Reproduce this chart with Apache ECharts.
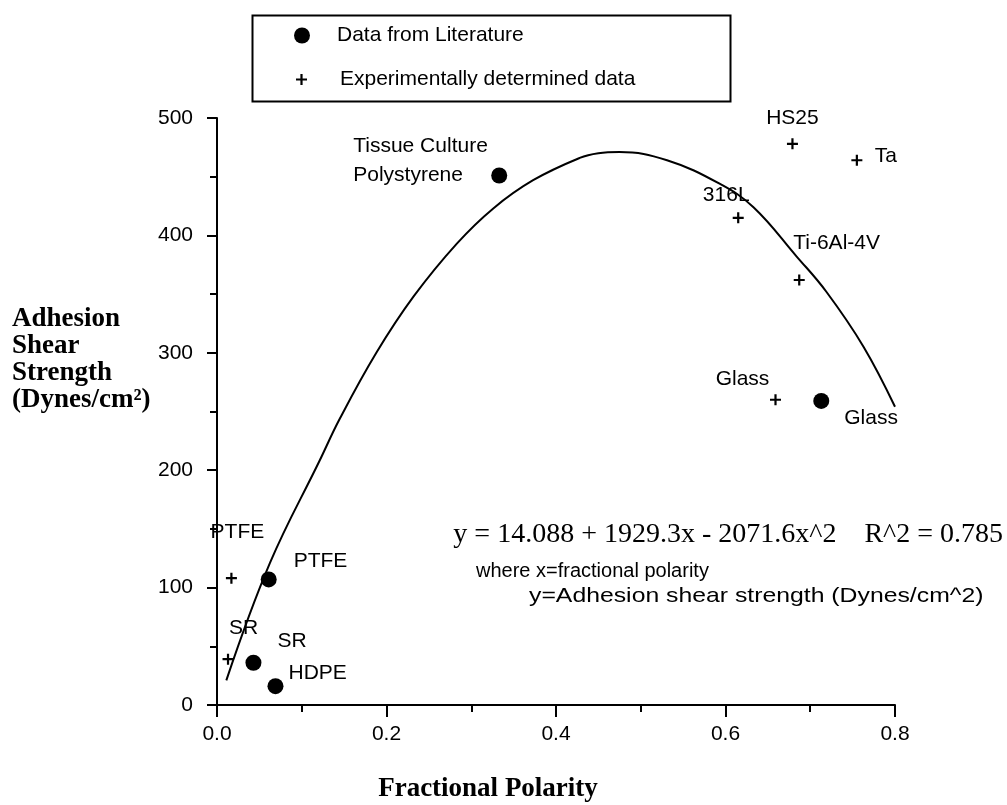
<!DOCTYPE html>
<html>
<head>
<meta charset="utf-8">
<script src="https://cdn.jsdelivr.net/npm/echarts@6/dist/echarts.min.js"></script>
<style>
  html, body { margin: 0; padding: 0; background: #fff; }
  #chart { width: 1007px; height: 805px; }
</style>
</head>
<body>
<div id="chart"></div>
<script>
// Data from literature (filled circles)
const litX = [0.333, 0.061, 0.043, 0.069, 0.713];
const litY = [451, 107, 36, 16, 259];
const litNames = ["Tissue Culture\nPolystyrene", "PTFE", "SR", "HDPE", "Glass"];

// Experimentally determined data (crosses)
const expX = [0.679, 0.755, 0.615, 0.687, 0.659, 0.017, 0.013];
const expY = [478, 464, 415, 362, 260, 108, 39];
const expNames = ["HS25", "Ta", "316L", "Ti-6Al-4V", "Glass", "PTFE", "SR"];

// Fitted curve
const fitX = [0.011, 0.0625, 0.121, 0.145, 0.188, 0.232, 0.283, 0.326, 0.373, 0.428, 0.45, 0.475, 0.531, 0.593, 0.633, 0.684, 0.719, 0.763, 0.8];
const fitY = [21, 121, 208, 244, 300, 348, 393, 423, 447, 466, 470, 471, 464, 444, 424, 382, 352, 305, 254];

const xTicks = [0, 0.8, 0.2];
const yTicks = [0, 500, 100];

// label placement (pixels from the point)
const litLabelPos = [
  { align: "left", offset: [-146, -15] },
  { align: "left", offset: [25, -18] },
  { align: "left", offset: [24, -22] },
  { align: "left", offset: [13, -13] },
  { align: "left", offset: [23, 17] },
];
const expLabelPos = [
  { align: "center", offset: [0, -26] },
  { align: "left", offset: [18, -4] },
  { align: "center", offset: [-12, -23] },
  { align: "left", offset: [-6, -37] },
  { align: "center", offset: [-33, -21] },
  { align: "center", offset: [6, -46] },
  { align: "left", offset: [1, -31] },
];

const sans = "Liberation Sans, Arial, sans-serif";
const serif = "Liberation Serif, Times New Roman, serif";
const plusIcon = "path://M4,0H6V4H10V6H6V10H4V6H0V4H4Z";

function withLabels(xs, ys, names, pos) {
  return xs.map(function (x, i) {
    return {
      value: [x, ys[i]],
      label: {
        show: true,
        formatter: names[i],
        position: "inside",
        align: pos[i].align,
        verticalAlign: "middle",
        offset: pos[i].offset,
      },
    };
  });
}

var chart = echarts.init(document.getElementById("chart"), null, { renderer: "canvas" });

var option = {
  backgroundColor: "#fff",
  animation: false,
  grid: { left: 217, top: 118, width: 678, height: 587 },
  legend: [
    {
      data: [{ name: "Data from Literature", icon: "circle" }],
      left: 294,
      top: 25,
      padding: 0,
      itemWidth: 16,
      itemHeight: 16,
      selectedMode: false,
      textStyle: { fontFamily: sans, fontSize: 21, color: "#000", padding: [0, 0, 0, 22] },
    },
    {
      data: [{ name: "Experimentally determined data", icon: plusIcon }],
      left: 296,
      top: 69,
      padding: 0,
      itemWidth: 11,
      itemHeight: 11,
      selectedMode: false,
      textStyle: { fontFamily: sans, fontSize: 21, color: "#000", padding: [0, 0, 0, 28] },
    },
  ],
  xAxis: {
    type: "value",
    min: xTicks[0],
    max: xTicks[1],
    interval: xTicks[2],
    axisLine: { lineStyle: { color: "#000", width: 2 } },
    axisTick: { length: 12, lineStyle: { color: "#000", width: 2 } },
    minorTick: { show: true, splitNumber: 2, length: 7, lineStyle: { color: "#000", width: 2 } },
    splitLine: { show: false },
    axisLabel: {
      color: "#000",
      fontFamily: sans,
      fontSize: 21,
      margin: 19,
      formatter: function (v) { return v.toFixed(1); },
    },
  },
  yAxis: {
    type: "value",
    min: yTicks[0],
    max: yTicks[1],
    interval: yTicks[2],
    axisLine: { lineStyle: { color: "#000", width: 2 } },
    axisTick: { length: 10, lineStyle: { color: "#000", width: 2 } },
    minorTick: { show: true, splitNumber: 2, length: 7, lineStyle: { color: "#000", width: 2 } },
    splitLine: { show: false },
    axisLabel: { color: "#000", fontFamily: sans, fontSize: 21, margin: 24 },
  },
  series: [
    {
      name: "fit",
      type: "line",
      smooth: 0.4,
      symbol: "none",
      lineStyle: { color: "#000", width: 2 },
      data: fitX.map(function (x, i) { return [x, fitY[i]]; }),
      z: 1,
    },
    {
      name: "Data from Literature",
      type: "scatter",
      symbol: "circle",
      symbolSize: 16,
      itemStyle: { color: "#000", opacity: 1 },
      label: { color: "#000", fontFamily: sans, fontSize: 21, lineHeight: 29 },
      data: withLabels(litX, litY, litNames, litLabelPos),
      z: 3,
    },
    {
      name: "Experimentally determined data",
      type: "scatter",
      symbol: plusIcon,
      symbolSize: 11,
      itemStyle: { color: "#000", opacity: 1 },
      label: { color: "#000", fontFamily: sans, fontSize: 21 },
      data: withLabels(expX, expY, expNames, expLabelPos),
      z: 3,
    },
  ],
  graphic: [
    {
      type: "rect",
      left: 250,
      top: 13,
      shape: { width: 478, height: 86 },
      style: { fill: "none", stroke: "#000", lineWidth: 2 },
    },
    {
      type: "text",
      left: 12,
      top: 306,
      style: {
        text: "Adhesion\nShear\nStrength\n(Dynes/cm²)",
        font: "bold 27px " + serif,
        lineHeight: 27,
        fill: "#000",
      },
    },
    {
      type: "text",
      x: 488,
      y: 789,
      style: {
        text: "Fractional Polarity",
        font: "bold 27px " + serif,
        fill: "#000",
        align: "center",
        verticalAlign: "middle",
      },
    },
    {
      type: "text",
      x: 1003,
      y: 535,
      style: {
        text: "y = 14.088 + 1929.3x - 2071.6x^2    R^2 = 0.785",
        font: "28px " + serif,
        fill: "#000",
        align: "right",
        verticalAlign: "middle",
      },
    },
    {
      type: "text",
      x: 476,
      y: 571,
      style: {
        text: "where x=fractional polarity",
        font: "20px " + sans,
        fill: "#000",
        align: "left",
        verticalAlign: "middle",
      },
    },
    {
      type: "text",
      x: 529,
      y: 596,
      scaleX: 1.18,
      style: {
        text: "y=Adhesion shear strength (Dynes/cm^2)",
        font: "21px " + sans,
        fill: "#000",
        align: "left",
        verticalAlign: "middle",
      },
    },
  ],
};

chart.setOption(option);
</script>
</body>
</html>
